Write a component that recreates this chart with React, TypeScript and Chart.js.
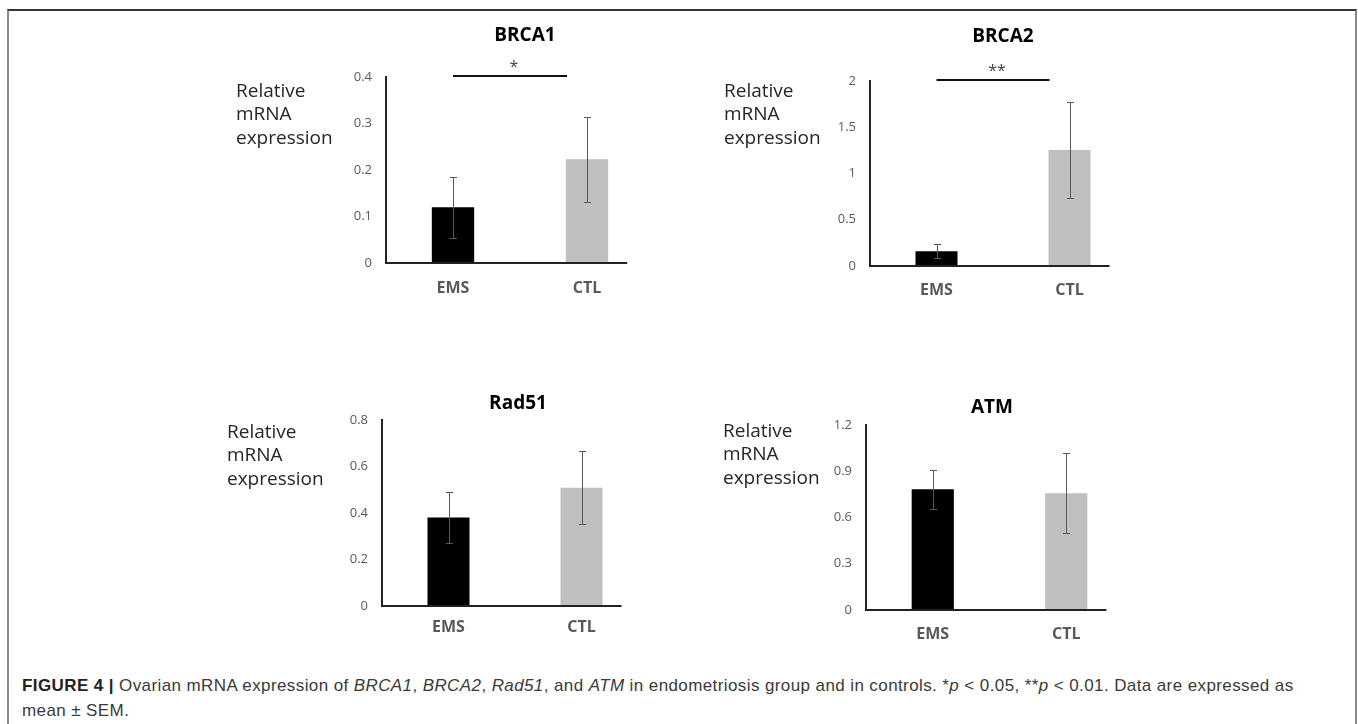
import React, { useEffect, useRef } from 'react';
import { Chart, registerables } from 'chart.js';

Chart.register(...registerables);

// ---------------- data ----------------
const categories = ['EMS', 'CTL'];

const brca1Mean = [0.12, 0.223];
const brca1Sem = [0.066, 0.092];
const brca2Mean = [0.16, 1.254];
const brca2Sem = [0.077, 0.52];
const rad51Mean = [0.381, 0.509];
const rad51Sem = [0.108, 0.157];
const atmMean = [0.783, 0.757];
const atmSem = [0.127, 0.26];

const brca1Ticks = ['0', '0.1', '0.2', '0.3', '0.4'];
const brca2Ticks = ['0', '0.5', '1', '1.5', '2'];
const rad51Ticks = ['0', '0.2', '0.4', '0.6', '0.8'];
const atmTicks = ['0', '0.3', '0.6', '0.9', '1.2'];

const brca1Sig = '*';
const brca2Sig = '**';

const yAxisTitle = ['Relative', 'mRNA', 'expression'];
const barColors = ['#000000', '#bfbfbf'];

// ---------------- layout (page coordinates) ----------------
type Spec = {
  title: string;
  mean: number[];
  sem: number[];
  ticks: string[];
  sig: string;
  area: { l: number; t: number; r: number; b: number };
  titleX: number;
  titleY: number;
  yLab: { x: number; y: number };
  xLabMid: number;
};

const panels: Spec[] = [
  { title: 'BRCA1', mean: brca1Mean, sem: brca1Sem, ticks: brca1Ticks, sig: brca1Sig,
    area: { l: 386, t: 77, r: 654, b: 263 }, titleX: 525, titleY: 36, yLab: { x: 236, y: 91.7 }, xLabMid: 288 },
  { title: 'BRCA2', mean: brca2Mean, sem: brca2Sem, ticks: brca2Ticks, sig: brca2Sig,
    area: { l: 870, t: 81, r: 1136, b: 266 }, titleX: 1003, titleY: 37, yLab: { x: 724, y: 91.7 }, xLabMid: 290 },
  { title: 'Rad51', mean: rad51Mean, sem: rad51Sem, ticks: rad51Ticks, sig: '',
    area: { l: 382, t: 420, r: 648, b: 606 }, titleX: 518, titleY: 404, yLab: { x: 227, y: 432.7 }, xLabMid: 627 },
  { title: 'ATM', mean: atmMean, sem: atmSem, ticks: atmTicks, sig: '',
    area: { l: 866, t: 425, r: 1133, b: 610 }, titleX: 992, titleY: 408, yLab: { x: 723, y: 431.7 }, xLabMid: 634 },
];

const FONT = '"Open Sans", "Noto Sans", sans-serif';
const TITLE_SIZE = 19;
const TITLE_LH = TITLE_SIZE * 1.2;
const X_LAB_SIZE = 16;
const X_AXIS_H = 45;
const Y_AXIS_W = 40;
const PAD_L = 130;
const PAD_R = 5;

const extrasPlugin = {
  id: 'extras',
  afterDatasetsDraw(chart: any, _args: any, opts: any) {
    const ctx = chart.ctx;
    const ys = chart.scales.y;
    const meta = chart.getDatasetMeta(0);
    const data = chart.data.datasets[0].data as number[];
    const sem: number[] = opts.sem;
    ctx.save();

    // x axis line
    const last = meta.data[meta.data.length - 1];
    const y0 = Math.round(ys.getPixelForValue(0));
    ctx.strokeStyle = '#222';
    ctx.lineWidth = 2;
    ctx.beginPath();
    ctx.moveTo(chart.chartArea.left - 1, y0);
    ctx.lineTo(last.x + last.width / 2 + 19, y0);
    ctx.stroke();

    // error bars
    ctx.strokeStyle = '#595959';
    ctx.lineWidth = 1;
    meta.data.forEach((bar: any, i: number) => {
      const v = data[i];
      const e = sem[i];
      const yt = Math.round(ys.getPixelForValue(v + e)) + 0.5;
      const yb = Math.round(ys.getPixelForValue(v - e)) + 0.5;
      const cx = Math.round(bar.x) + 0.5;
      ctx.beginPath();
      ctx.moveTo(cx, yt);
      ctx.lineTo(cx, yb);
      ctx.moveTo(cx - 3.5, yt);
      ctx.lineTo(cx + 3.5, yt);
      ctx.moveTo(cx - 3.5, yb);
      ctx.lineTo(cx + 3.5, yb);
      ctx.stroke();
    });

    // significance bracket
    if (opts.sig) {
      const b0 = meta.data[0];
      const b1 = meta.data[1];
      const ly = Math.round(ys.top - 1.5);
      const x1 = b0.x;
      const x2 = b1.x - 20;
      ctx.strokeStyle = '#111';
      ctx.lineWidth = 2;
      ctx.beginPath();
      ctx.moveTo(x1, ly);
      ctx.lineTo(x2, ly);
      ctx.stroke();
      ctx.fillStyle = '#404040';
      ctx.font = `16px ${FONT}`;
      ctx.textAlign = 'center';
      ctx.textBaseline = 'alphabetic';
      ctx.fillText(opts.sig, (x1 + x2) / 2 + 4, ly - 4);
    }

    // y axis title
    ctx.fillStyle = '#262626';
    ctx.font = `19px ${FONT}`;
    ctx.textAlign = 'left';
    ctx.textBaseline = 'middle';
    (opts.yTitle as string[]).forEach((line, i) => {
      ctx.fillText(line, opts.yTitleX, opts.yTitleY + i * 23.3);
    });
    ctx.restore();
  },
};

function Panel({ spec }: { spec: Spec }) {
  const ref = useRef<HTMLCanvasElement>(null);
  const { area } = spec;
  // right spacer so that the title (centred over the layout width) lands at titleX
  const rightW = Math.max(0, 2 * spec.titleX - area.l - area.r + Y_AXIS_W);
  const CL = area.l - Y_AXIS_W - PAD_L;
  const CW = area.r + rightW + PAD_R - CL;
  const ctExact = spec.titleY - TITLE_LH / 2;
  const CT = Math.floor(ctExact);
  const titlePadTop = ctExact - CT;
  const titlePadBottom = area.t - spec.titleY - TITLE_LH / 2;
  const CH = Math.ceil(area.b - CT + X_AXIS_H);
  const chBottomPad = CT + CH - X_AXIS_H - area.b;

  useEffect(() => {
    const maxV = parseFloat(spec.ticks[spec.ticks.length - 1]);
    const step = parseFloat(spec.ticks[1]) - parseFloat(spec.ticks[0]);
    const chart = new Chart(ref.current as HTMLCanvasElement, {
      type: 'bar',
      data: {
        labels: categories,
        datasets: [
          {
            data: spec.mean,
            backgroundColor: barColors,
            borderWidth: 0,
            categoryPercentage: 1,
            barPercentage: 0.316,
            yAxisID: 'y',
          },
        ],
      },
      options: {
        responsive: false,
        animation: false,
        devicePixelRatio: 1,
        layout: { padding: { left: PAD_L, right: PAD_R, top: 0, bottom: chBottomPad } },
        plugins: {
          legend: { display: false },
          tooltip: { enabled: false },
          title: {
            display: true,
            text: spec.title,
            color: '#000',
            font: { family: FONT, size: TITLE_SIZE, weight: 'bold', lineHeight: 1.2 },
            padding: { top: titlePadTop, bottom: titlePadBottom },
          },
          extras: {
            sem: spec.sem,
            sig: spec.sig,
            yTitle: yAxisTitle,
            yTitleX: spec.yLab.x - CL,
            yTitleY: spec.yLab.y - CT,
          },
        } as any,
        scales: {
          x: {
            grid: { display: false, drawTicks: false },
            border: { display: false },
            ticks: {
              color: '#595959',
              padding: spec.xLabMid - area.b - (X_LAB_SIZE * 1.2) / 2,
              font: { family: FONT, size: X_LAB_SIZE, weight: 'bold', lineHeight: 1.2 },
            },
            afterFit: (s: any) => {
              s.height = X_AXIS_H;
            },
          },
          y: {
            position: 'left',
            min: 0,
            max: maxV,
            grid: { display: false, drawTicks: false },
            border: { display: true, color: '#222', width: 2 },
            ticks: {
              stepSize: step,
              color: '#595959',
              padding: 14,
              font: { family: FONT, size: 13 },
              callback: (_v: any, i: number) => spec.ticks[i],
            },
            afterFit: (s: any) => {
              s.width = Y_AXIS_W;
            },
          },
          spacer: {
            type: 'linear',
            position: 'right',
            grid: { display: false, drawTicks: false },
            border: { display: false },
            ticks: { display: false },
            afterFit: (s: any) => {
              s.width = rightW;
            },
          },
        } as any,
      },
      plugins: [extrasPlugin],
    });
    return () => chart.destroy();
  }, []);

  return (
    <canvas
      ref={ref}
      width={CW}
      height={CH}
      style={{ position: 'absolute', left: CL, top: CT, width: CW, height: CH }}
    />
  );
}

export default function App() {
  return (
    <div
      style={{
        position: 'absolute',
        left: 0,
        top: 0,
        width: 1358,
        height: 724,
        overflow: 'hidden',
        background: '#fff',
      }}
    >
      <div
        style={{
          position: 'absolute',
          left: 7,
          top: 9,
          width: 1346,
          height: 800,
          borderTop: '2px solid #333',
          borderLeft: '2px solid #8a8a8a',
          borderRight: '2px solid #8a8a8a',
        }}
      />
      {panels.map((p) => (
        <Panel key={p.title} spec={p} />
      ))}
      <div
        style={{
          position: 'absolute',
          left: 22,
          top: 673,
          fontFamily: '"Liberation Sans", Arial, sans-serif',
          fontSize: 17,
          letterSpacing: '0.4px',
          lineHeight: '25px',
          color: '#3a3a3a',
          whiteSpace: 'nowrap',
        }}
      >
        <div>
          <b style={{ color: '#222' }}>FIGURE 4 |</b> Ovarian mRNA expression of <i>BRCA1</i>, <i>BRCA2</i>,{' '}
          <i>Rad51</i>, and <i>ATM</i> in endometriosis group and in controls. *<i>p</i> &lt; 0.05, **<i>p</i> &lt;
          0.01. Data are expressed as
        </div>
        <div>mean ± SEM.</div>
      </div>
    </div>
  );
}
